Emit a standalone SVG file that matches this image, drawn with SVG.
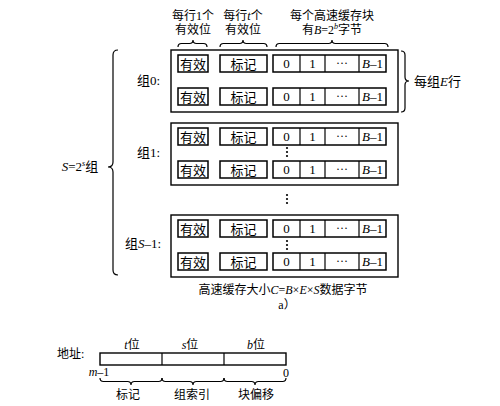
<svg xmlns="http://www.w3.org/2000/svg" width="500" height="406" viewBox="0 0 500 406">
<defs>
<style>
text{font-family:"Liberation Serif","Noto Sans CJK SC",serif;fill:#000;font-size:12px}
.c{text-anchor:middle}
.i{font-style:italic}
.b{font-size:13px}
.box{fill:#fff;stroke:#000;stroke-width:1.5}
.grp{fill:#fff;stroke:#000;stroke-width:1.4}
.br{fill:none;stroke:#000;stroke-width:1.2}
.ln{fill:none;stroke:#000;stroke-width:1.2}
</style>
<g id="line">
<rect class="box" x="178" y="0" width="30" height="17"/>
<text class="c b" x="193" y="13.5">有效</text>
<rect class="box" x="220" y="0" width="47" height="17"/>
<text class="c b" x="243.5" y="13.5">标记</text>
<rect class="box" x="273" y="0" width="113" height="17"/>
<line class="ln" x1="300" y1="0" x2="300" y2="17"/>
<line class="ln" x1="325" y1="0" x2="325" y2="17"/>
<line class="ln" x1="359" y1="0" x2="359" y2="17"/>
<text class="c b" x="286.5" y="13">0</text>
<text class="c b" x="312.5" y="13">1</text>
<text class="c" x="342" y="12">···</text>
<text class="c b" x="372.5" y="13"><tspan class="i">B</tspan>–1</text>
</g>
<g id="vdots">
<circle cx="0" cy="0" r="1.1"/>
<circle cx="0" cy="4" r="1.1"/>
<circle cx="0" cy="8" r="1.1"/>
</g>
</defs>
<rect width="500" height="406" fill="#fff"/>

<g id="header-labels">
<text class="c" x="193" y="20">每行1个</text>
<text class="c" x="193" y="34">有效位</text>
<text class="c" x="243" y="20">每行<tspan class="i">t</tspan>个</text>
<text class="c" x="243" y="34">有效位</text>
<text class="c" x="332" y="20">每个高速缓存块</text>
<text class="c" x="332" y="34">有<tspan class="i">B</tspan>=2<tspan class="i" font-size="8" dy="-5">b</tspan><tspan dy="5">字节</tspan></text>
</g>

<g id="connectors">
<path class="br" d="M178,47 Q178,43.5 181.5,43.5 L189.5,43.5 Q193,43.5 193,40 Q193,43.5 196.5,43.5 L203.5,43.5 Q207,43.5 207,47"/>
<path class="br" d="M220,47 Q220,43.5 223.5,43.5 L239.5,43.5 Q243,43.5 243,40 Q243,43.5 246.5,43.5 L263.5,43.5 Q267,43.5 267,47"/>
<path class="br" d="M276,47 Q276,43.5 279.5,43.5 L328.5,43.5 Q332,43.5 332,40 Q332,43.5 335.5,43.5 L384.5,43.5 Q388,43.5 388,47"/>
<path class="br" d="M401,51 Q405,51 405,55 L405,77 Q405,81 409,81 Q405,81 405,85 L405,108 Q405,112 401,112"/>
<path class="br" d="M118,50 Q113,50 113,55 L113,162 Q113,167 108,167 Q113,167 113,172 L113,270 Q113,275 118,275"/>
<path class="br" d="M100,378 Q100,381.5 103.5,381.5 L127.5,381.5 Q131,381.5 131,385 Q131,381.5 134.5,381.5 L158.5,381.5 Q162,381.5 162,378"/>
<path class="br" d="M162,378 Q162,381.5 165.5,381.5 L189.5,381.5 Q193,381.5 193,385 Q193,381.5 196.5,381.5 L220.5,381.5 Q224,381.5 224,378"/>
<path class="br" d="M224,378 Q224,381.5 227.5,381.5 L251.5,381.5 Q255,381.5 255,385 Q255,381.5 258.5,381.5 L282.5,381.5 Q286,381.5 286,378"/>
</g>

<g id="set0">
<rect class="grp" x="171" y="50" width="227" height="62"/>
<use href="#line" y="55"/>
<use href="#line" y="88"/>
<text x="137" y="85" class="b">组0:</text>
</g>
<text x="414" y="86" class="b">每组<tspan class="i">E</tspan>行</text>

<g id="set1">
<rect class="grp" x="171" y="123" width="227" height="62"/>
<use href="#line" y="128"/>
<use href="#line" y="161"/>
<use href="#vdots" x="287" y="148"/>
<text x="137" y="157" class="b">组1:</text>
</g>

<use href="#vdots" x="287" y="195"/>

<g id="setS-1">
<rect class="grp" x="171" y="215" width="227" height="62"/>
<use href="#line" y="220"/>
<use href="#line" y="253"/>
<use href="#vdots" x="287" y="241"/>
<text x="125" y="248" class="b">组<tspan class="i">S</tspan>–1:</text>
</g>

<text class="c b" x="80" y="171"><tspan class="i">S</tspan>=2<tspan class="i" font-size="8" dy="-5">s</tspan><tspan dy="5">组</tspan></text>

<text class="c" x="283" y="294">高速缓存大小<tspan class="i">C</tspan>=<tspan class="i">B</tspan>×<tspan class="i">E</tspan>×<tspan class="i">S</tspan>数据字节</text>
<text class="c" x="287" y="309" font-size="10">a）</text>

<g id="address">
<text x="57" y="358">地址:</text>
<rect class="grp" x="100" y="353" width="186" height="12"/>
<line class="ln" x1="162" y1="353" x2="162" y2="365"/>
<line class="ln" x1="224" y1="353" x2="224" y2="365"/>
<text class="c" x="132" y="349"><tspan class="i">t</tspan>位</text>
<text class="c" x="190" y="349"><tspan class="i">s</tspan>位</text>
<text class="c" x="256" y="349"><tspan class="i">b</tspan>位</text>
<text class="c" x="99" y="376"><tspan class="i">m</tspan>–1</text>
<text class="c" x="286" y="377">0</text>
<text class="c" x="128" y="399">标记</text>
<text class="c" x="192" y="399">组索引</text>
<text class="c" x="256" y="399">块偏移</text>
</g>
</svg>
